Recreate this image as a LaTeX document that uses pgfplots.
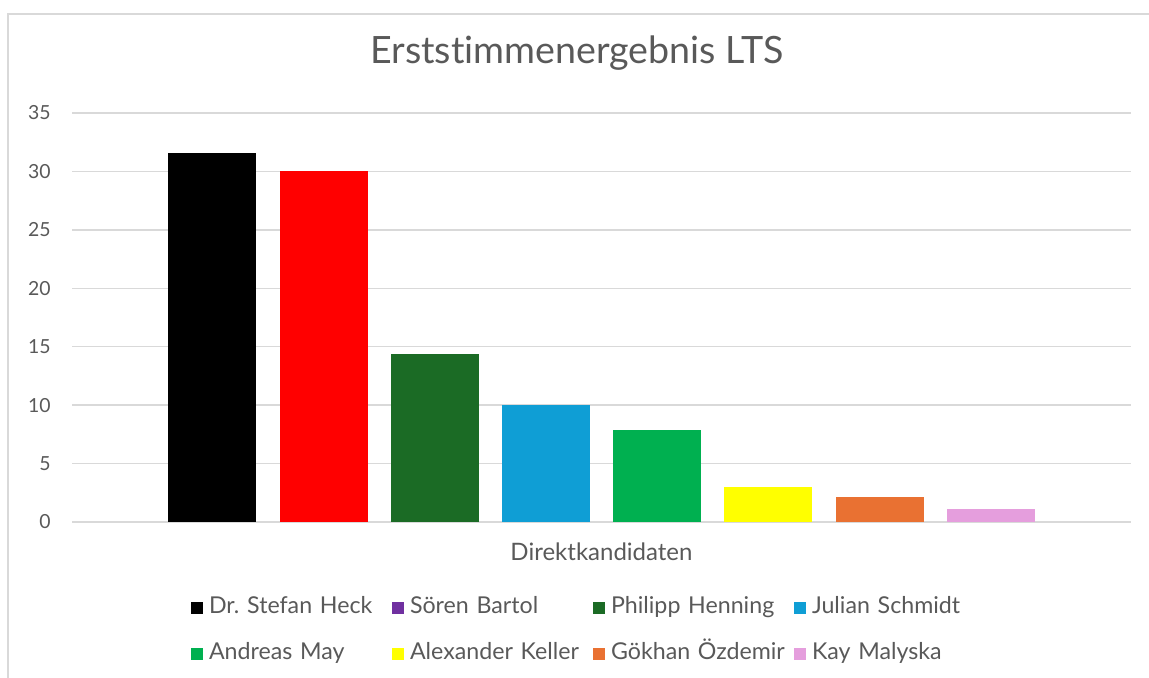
\documentclass[border=0pt]{standalone}
\usepackage{fontspec}
\setmainfont{Lato}[Ligatures=NoCommon]
\usepackage{pgfplots}
\pgfplotsset{compat=1.18}
\frenchspacing
\definecolor{txt}{HTML}{595959}
\definecolor{grd}{HTML}{D9D9D9}
\definecolor{c1}{HTML}{000000}
\definecolor{c2}{HTML}{FF0000}
\definecolor{c2l}{HTML}{7030A0}
\definecolor{c3}{HTML}{1B6B25}
\definecolor{c4}{HTML}{0F9ED5}
\definecolor{c5}{HTML}{00B050}
\definecolor{c6}{HTML}{FFFF00}
\definecolor{c7}{HTML}{E97132}
\definecolor{c8}{HTML}{E59EDD}
\begin{document}
\begin{tikzpicture}
\useasboundingbox (0,0) rectangle (574.5pt,339pt);
\draw[grd, line width=0.75pt] (4pt,-5pt) -- (4pt,332pt) -- (590pt,332pt);
\begin{axis}[
  at={(36pt,78pt)}, anchor=south west,
  scale only axis, width=529.5pt, height=204.5pt,
  ybar=11.6pt, bar width=44pt,
  xmin=-0.5, xmax=0.5, ymin=0, ymax=35,
  xtick=\empty, ytick={0,5,...,35},
  axis line style={draw=none},
  major tick length=0pt,
  ymajorgrids, grid style={grd, line width=0.75pt},
  /pgf/number format/assume math mode=true,
  yticklabel style={inner sep=0pt, xshift=-10.5pt, font=\fontsize{9.7}{11}\selectfont, text=txt},
  title={Erststimmenergebnis LTS},
  title style={at={(axis description cs:0.4769,1)}, anchor=base, yshift=18.5pt, inner sep=0pt, font=\fontsize{18.8}{22}\selectfont, text=txt},
  xlabel={Direktkandidaten},
  xlabel style={at={(axis description cs:0.5,0)}, anchor=base, yshift=-19.5pt, inner sep=0pt, font=\fontsize{12}{14}\selectfont, text=txt},
  legend columns=4,
  legend cell align=left,
  legend style={at={(axis description cs:0.1124,-0.1540)}, anchor=north west, draw=none, fill=none,
    inner sep=0pt, outer sep=0pt, row sep=0pt,
    /tikz/every odd column/.style={column sep=3pt},
    nodes={inner sep=0pt, text width=91.5pt, minimum height=23pt, text height=8pt, text depth=2.5pt,
      font=\fontsize{11.6}{13}\selectfont, text=txt}},
]
\addplot[fill=c1, draw=none, legend image code/.code={\fill[c1] (0pt,-3pt) rectangle (6pt,3pt);}] coordinates {(0,31.6)};
\addplot[fill=c2, draw=none, legend image code/.code={\fill[c2l] (0pt,-3pt) rectangle (6pt,3pt);}] coordinates {(0,30.0)};
\addplot[fill=c3, draw=none, legend image code/.code={\fill[c3] (0pt,-3pt) rectangle (6pt,3pt);}] coordinates {(0,14.4)};
\addplot[fill=c4, draw=none, legend image code/.code={\fill[c4] (0pt,-3pt) rectangle (6pt,3pt);}] coordinates {(0,10.0)};
\addplot[fill=c5, draw=none, legend image code/.code={\fill[c5] (0pt,-3pt) rectangle (6pt,3pt);}] coordinates {(0,7.9)};
\addplot[fill=c6, draw=none, legend image code/.code={\fill[c6] (0pt,-3pt) rectangle (6pt,3pt);}] coordinates {(0,3.0)};
\addplot[fill=c7, draw=none, legend image code/.code={\fill[c7] (0pt,-3pt) rectangle (6pt,3pt);}] coordinates {(0,2.1)};
\addplot[fill=c8, draw=none, legend image code/.code={\fill[c8] (0pt,-3pt) rectangle (6pt,3pt);}] coordinates {(0,1.1)};
\legend{Dr. Stefan Heck, Sören Bartol, Philipp Henning, Julian Schmidt, Andreas May, Alexander Keller, Gökhan Özdemir, Kay Malyska}
\end{axis}
\end{tikzpicture}
\end{document}
